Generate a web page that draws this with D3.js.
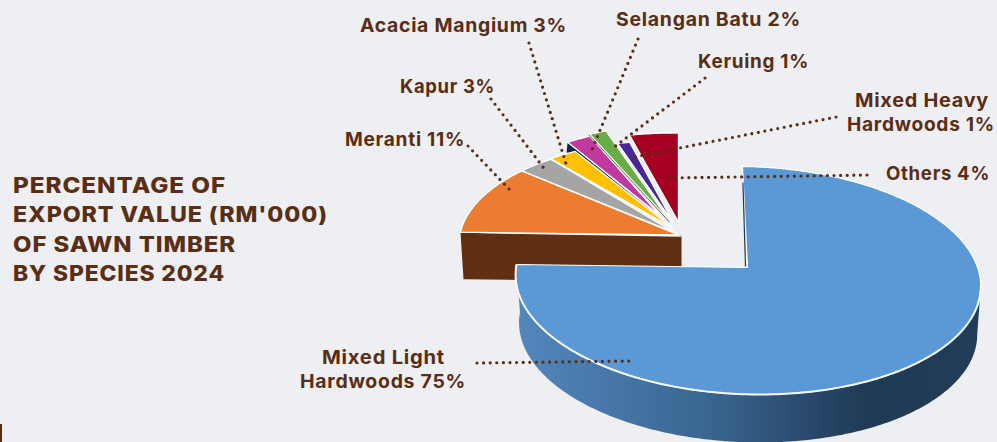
<!DOCTYPE html>
<html>
<head>
<meta charset="utf-8">
<script src="https://cdn.jsdelivr.net/npm/d3@7"></script>
<style>
  html, body { margin: 0; padding: 0; background: #edeff2; overflow: hidden; }
  svg { display: block; }
  text { font-family: Inter, "Open Sans", sans-serif; font-weight: 700; fill: #5a2d14; }
</style>
</head>
<body>
<svg id="chart" width="997" height="442"></svg>
<script>
// Chart data, clockwise from the left edge of the pie
const species = ['Meranti', 'Kapur', 'Acacia Mangium', 'Selangan Batu', 'Keruing', 'Mixed Heavy Hardwoods', 'Others', 'Mixed Light Hardwoods'];
const shares = [11, 3, 3, 2, 1, 1, 4, 75];
const sliceColors = ['#ec7c30', '#a5a5a5', '#ffc000', '#c0399f', '#6aac46', '#47289a', '#a50021', '#5b98d6'];
const titleLines = ['PERCENTAGE OF', "EXPORT VALUE (RM'000)", 'OF SAWN TIMBER', 'BY SPECIES 2024'];

const ink = '#5a2d14';
const svg = d3.select('#chart');

// Perspective disc: the far half of the circle is squeezed
const depthK = 0.114;
const tilt = 0.013;

function project(angle, disc, reach = 1) {
  const x = Math.sin(angle);
  const y = Math.cos(angle);
  const den = 1 + depthK * y;
  const px = disc.rx * x / den;
  const py = disc.ry * y / den * reach;
  return [disc.x + px - disc.lean * py / 100, disc.y - py + tilt * px];
}

const bigDisc = { x: 747.5, y: 267.5, rx: 231, ry: 112.5, lean: 5 };
const smallDisc = { x: 678.5, y: 235, rx: 218, ry: 113.6, lean: 0 };

const pieSlices = d3.pie().sort(null).value(d => d).startAngle(-Math.PI / 2).endAngle(1.5 * Math.PI)(shares);

const line = d3.line();

function arcPoints(a0, a1, disc, reach = 1) {
  const n = Math.max(4, Math.ceil(Math.abs(a1 - a0) * 60));
  return d3.range(n + 1).map(i => project(a0 + (a1 - a0) * i / n, disc, reach));
}

// The source drawing is loose about its small slices: rim height, tip offset
// and how far each edge is nudged from its true angle (in percent of the pie)
const sliceReach = [0.92, 0.92, 0.93, 1.06, 1.08, 0.93, 1];
const tipOffset = [[0, 0], [-5, -3], [-6, -7], [-18, -19], [-8, -13], [-5, -12], [0, -13]];
const edgeNudge = [[0, 0], [0, 0], [0, -0.7], [-1.4, -1.4], [-1.4, -1], [0, 0], [0, 0]];
const pct = Math.PI / 50;

function tipPoint(i) {
  return [smallDisc.x + tipOffset[i][0], smallDisc.y + tipOffset[i][1]];
}

function wedgePoints(d, i) {
  const a0 = d.startAngle + edgeNudge[i][0] * pct;
  const a1 = d.endAngle + edgeNudge[i][1] * pct;
  return [tipPoint(i), ...arcPoints(a0, a1, smallDisc, sliceReach[i])];
}

// Brown wall under the left edge of the small pie
const wallLeft = project(-Math.PI / 2, smallDisc);
svg.append('path')
  .attr('d', line([wallLeft, [wallLeft[0] + 3, wallLeft[1] + 47], [smallDisc.x + 3, smallDisc.y + 47], [smallDisc.x + 3, smallDisc.y]]) + 'Z')
  .attr('fill', '#5e2f10');
svg.append('path')
  .attr('d', line([wallLeft, [smallDisc.x + 3, smallDisc.y + 1]]))
  .attr('stroke', '#fff').attr('stroke-width', 1.4).attr('fill', 'none');

// Navy inner wall: a small triangle under the magenta slice's rim corner
const navyRim = project(pieSlices[3].startAngle + edgeNudge[3][0] * pct, smallDisc, sliceReach[3]);
svg.append('path')
  .attr('d', line([tipPoint(2), navyRim, [navyRim[0] - 1, navyRim[1] + 10]]) + 'Z')
  .attr('fill', '#0f2350');

// Small slices
svg.selectAll('path.small')
  .data(pieSlices.slice(0, 7))
  .enter().append('path')
  .attr('class', 'small')
  .attr('d', (d, i) => line(wedgePoints(d, i)) + 'Z')
  .attr('fill', (d, i) => sliceColors[i])
  .attr('stroke', '#fff')
  .attr('stroke-width', 1.3)
  .attr('stroke-linejoin', 'round');

// Dark hairline along the left edge of the green slice
const greenRim = project(pieSlices[4].startAngle + edgeNudge[4][0] * pct - 0.006, smallDisc, sliceReach[4]);
svg.append('path')
  .attr('d', line([[tipPoint(4)[0] - 1, tipPoint(4)[1]], greenRim]))
  .attr('stroke', '#4f5a3c').attr('stroke-width', 0.9).attr('fill', 'none');

// Big slice: side first, then the top face
const defs = svg.append('defs');
const grad = defs.append('linearGradient').attr('id', 'sideFill')
  .attr('gradientUnits', 'userSpaceOnUse')
  .attr('x1', 516).attr('x2', 978).attr('y1', 0).attr('y2', 0);
[[0, '#5387bc'], [0.4, '#3b6793'], [0.62, '#2a4b6e'], [0.76, '#1f3a55'], [1, '#213d57']]
  .forEach(s => grad.append('stop').attr('offset', s[0]).attr('stop-color', s[1]));

const big = pieSlices[7];
const sideDepth = 48;
const shrink = 0.985;
const topEdge = arcPoints(1.5 * Math.PI, Math.PI / 2 + 0.14, bigDisc);
const bottomEdge = topEdge.map(p => [
  bigDisc.x + (p[0] - bigDisc.x) * shrink,
  p[1] + sideDepth
]).reverse();
svg.append('path')
  .attr('d', line([...topEdge, ...bottomEdge]) + 'Z')
  .attr('fill', 'url(#sideFill)');

svg.append('path')
  .attr('d', line([[bigDisc.x, bigDisc.y], ...arcPoints(big.startAngle, big.endAngle, bigDisc)]) + 'Z')
  .attr('fill', sliceColors[7])
  .attr('stroke', '#fff')
  .attr('stroke-width', 1.2)
  .attr('stroke-linejoin', 'round');
svg.append('path')
  .attr('d', line(topEdge))
  .attr('stroke', '#f4f6f8').attr('stroke-width', 2).attr('fill', 'none');

// Thin dark inner wall beside the top edge of the big slice
const bigTop = project(0, bigDisc);
svg.append('path')
  .attr('d', line([[bigTop[0] + 0.5, bigTop[1] + 16], [bigDisc.x - 2, bigDisc.y - 1]]))
  .attr('stroke', '#1f3a55').attr('stroke-width', 1.2).attr('fill', 'none');

// Dotted leaders, drawn over the slices
const leaders = [
  [[468, 146], [509, 189]],
  [[491, 99], [546, 171]],
  [[529, 43], [567, 167]],
  [[638, 39], [591, 152]],
  [[705, 78], [613, 148]],
  [[836, 117], [634, 157]],
  [[867, 175], [667, 178]],
  [[477, 363], [632, 361]]
];
svg.selectAll('path.leader')
  .data(leaders)
  .enter().append('path')
  .attr('class', 'leader')
  .attr('d', d => line(d))
  .attr('fill', 'none')
  .attr('stroke', ink)
  .attr('stroke-width', 3.2)
  .attr('stroke-linecap', 'round')
  .attr('stroke-dasharray', '0 6.6');

// Labels: text, x, baseline, width so the lines keep the reference's extent
const labels = [
  [`${species[0]} ${shares[0]}%`, 345, 146, 120],
  [`${species[1]} ${shares[1]}%`, 400, 93, 95],
  [`${species[2]} ${shares[2]}%`, 360, 32, 207],
  [`${species[3]} ${shares[3]}%`, 616, 26, 185],
  [`${species[4]} ${shares[4]}%`, 698, 68, 111],
  ['Mixed Heavy', 855, 107, 134],
  [`Hardwoods ${shares[5]}%`, 847, 131, 148],
  [`${species[6]} ${shares[6]}%`, 886, 180, 104],
  ['Mixed Light', 322, 364, 123],
  [`Hardwoods ${shares[7]}%`, 300, 388, 166]
];
svg.selectAll('text.label')
  .data(labels)
  .enter().append('text')
  .attr('class', 'label')
  .attr('x', d => d[1])
  .attr('y', d => d[2])
  .attr('textLength', d => d[3])
  .attr('lengthAdjust', 'spacingAndGlyphs')
  .attr('font-size', 19)
  .style('letter-spacing', '0.7px')
  .text(d => d[0]);

// Title block
const titleY = d3.scalePoint().domain(titleLines).range([193, 281]);
const titleWidths = [213, 315, 223, 212];
svg.selectAll('text.title')
  .data(titleLines)
  .enter().append('text')
  .attr('class', 'title')
  .attr('x', 13)
  .attr('y', d => titleY(d))
  .attr('font-size', 21)
  .style('font-weight', 800)
  .style('letter-spacing', '0.8px')
  .attr('textLength', (d, i) => titleWidths[i])
  .attr('lengthAdjust', 'spacingAndGlyphs')
  .text(d => d);

// Sliver at the bottom left corner of the source
svg.append('rect').attr('x', 0).attr('y', 424).attr('width', 2).attr('height', 18).attr('fill', ink);
</script>
</body>
</html>
